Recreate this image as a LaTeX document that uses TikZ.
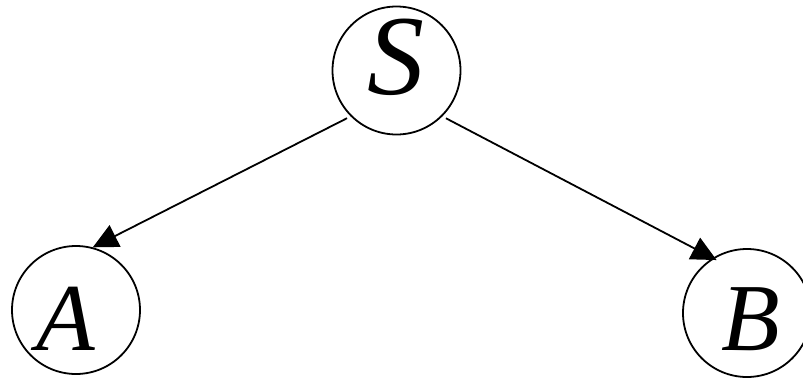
\documentclass[tikz,border=0pt]{standalone}
\usepackage{fontspec}
\setmainfont{Liberation Serif}
\usetikzlibrary{arrows.meta}
\begin{document}
\begin{tikzpicture}[x=1pt,y=-1pt,
  circ/.style={draw,circle,line width=1.8pt,minimum size=128pt,inner sep=0pt},
  lbl/.style={anchor=base,inner sep=0pt,font=\fontsize{96}{96}\selectfont\itshape},
  edge/.style={line width=1.8pt,-{Triangle[length=25pt,width=24pt]}}]
\useasboundingbox (0,0) rectangle (803,378);
\node[circ] (S) at (396.5,70.5) {};
\node[circ] (A) at (76,310) {};
\node[circ] (B) at (747,313) {};
\node[lbl,font=\fontsize{114}{114}\selectfont\itshape] (St) at (396,94) {S};
\node[lbl] (At) at (66,350) {A};
\node[lbl] (Bt) at (751,350) {B};
\draw[edge,shorten <=4pt] (S.225) -- (A.75);
\draw[edge,shorten <=4pt,shorten >=-4.5pt] (S.-45) -- (B.122.5);
\end{tikzpicture}
\end{document}
